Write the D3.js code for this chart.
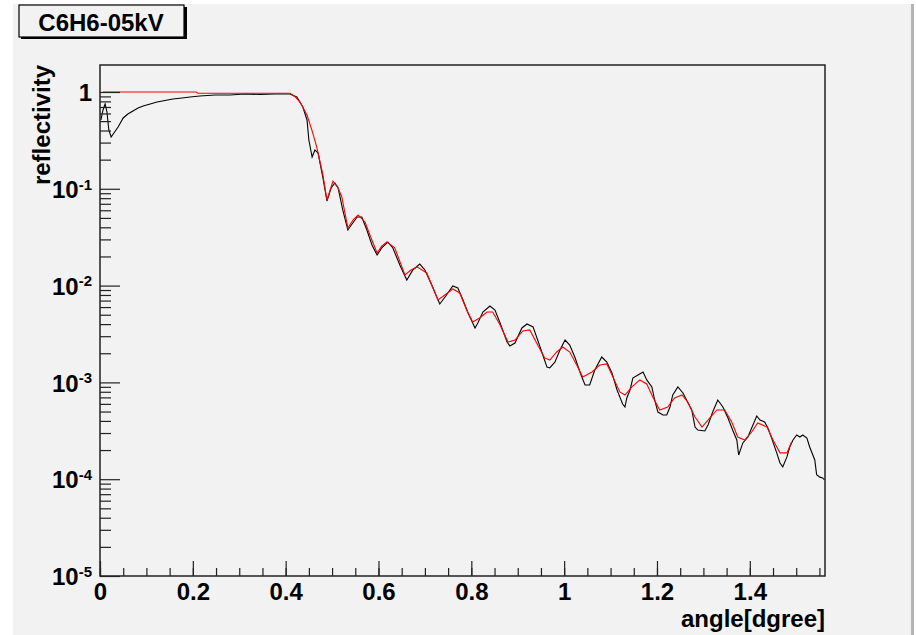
<!DOCTYPE html>
<html>
<head>
<meta charset="utf-8">
<script src="https://cdn.jsdelivr.net/npm/d3@7"></script>
<style>
  html, body { margin: 0; padding: 0; background: #ffffff; }
  svg { display: block; }
  text { font-family: "Liberation Sans", Arial, Helvetica, sans-serif; font-weight: bold; fill: #000; }
</style>
</head>
<body>
<svg id="chart" width="916" height="635"></svg>
<script>
// Measured reflectivity (black trace)
const measAngle = [0.002,0.0065,0.011,0.015,0.019,0.024,0.030,0.039,0.050,0.060,0.071,0.082,0.093,0.108,0.123,0.140,0.157,0.177,0.194,0.215,0.248,0.280,0.312,0.345,0.377,0.409,0.424,0.437,0.446,0.450,0.457,0.463,0.470,0.474,0.480,0.489,0.498,0.506,0.513,0.523,0.534,0.543,0.554,0.564,0.575,0.586,0.597,0.607,0.620,0.631,0.646,0.661,0.674,0.689,0.700,0.715,0.732,0.745,0.760,0.771,0.782,0.793,0.803,0.808,0.814,0.825,0.840,0.851,0.862,0.877,0.883,0.894,0.909,0.920,0.933,0.943,0.954,0.963,0.969,0.980,0.991,1.002,1.012,1.023,1.034,1.045,1.055,1.066,1.081,1.092,1.103,1.114,1.120,1.126,1.131,1.135,1.142,1.148,1.159,1.170,1.178,1.189,1.195,1.202,1.213,1.221,1.228,1.234,1.245,1.256,1.266,1.275,1.282,1.288,1.303,1.310,1.320,1.331,1.342,1.353,1.363,1.372,1.376,1.385,1.396,1.404,1.415,1.422,1.432,1.439,1.447,1.458,1.465,1.471,1.480,1.486,1.493,1.501,1.508,1.514,1.523,1.529,1.540,1.544,1.551,1.557,1.561];
const measRefl = [0.514,0.652,0.752,0.621,0.405,0.343,0.377,0.435,0.539,0.592,0.636,0.684,0.717,0.752,0.788,0.817,0.847,0.867,0.888,0.909,0.931,0.931,0.953,0.942,0.953,0.953,0.888,0.700,0.514,0.319,0.213,0.252,0.234,0.185,0.132,0.0748,0.102,0.115,0.102,0.0604,0.0375,0.0433,0.0511,0.0511,0.0375,0.0263,0.0207,0.0245,0.0282,0.0245,0.0163,0.0114,0.0145,0.0167,0.0145,0.0101,0.00645,0.00781,0.00991,0.00945,0.00710,0.00521,0.00411,0.00365,0.00411,0.00534,0.00616,0.00560,0.00411,0.00261,0.00238,0.00255,0.00365,0.00401,0.00374,0.00274,0.00192,0.00144,0.00141,0.00162,0.00216,0.00274,0.00243,0.00183,0.00128,0.000940,0.000940,0.00134,0.00183,0.00162,0.00125,0.000835,0.000707,0.000598,0.000557,0.000690,0.000835,0.00111,0.00119,0.00128,0.00106,0.000897,0.000658,0.000494,0.000460,0.000460,0.000557,0.000741,0.000897,0.000777,0.000627,0.000519,0.000346,0.000322,0.000315,0.000363,0.000494,0.000658,0.000557,0.000429,0.000322,0.000254,0.000178,0.000237,0.000273,0.000338,0.000450,0.000409,0.000390,0.000338,0.000266,0.000187,0.000147,0.000134,0.000170,0.000215,0.000254,0.000286,0.000273,0.000286,0.000266,0.000215,0.000158,0.000111,0.000105,0.000103,0.0000981];

// Fitted reflectivity (red trace)
const fitAngle = [0.0065,0.207,0.211,0.409,0.420,0.431,0.446,0.457,0.467,0.480,0.489,0.502,0.513,0.521,0.534,0.545,0.556,0.571,0.584,0.597,0.607,0.618,0.635,0.657,0.670,0.683,0.704,0.728,0.743,0.760,0.775,0.790,0.803,0.818,0.834,0.846,0.862,0.879,0.894,0.911,0.926,0.943,0.958,0.969,0.984,0.997,1.012,1.027,1.040,1.060,1.077,1.092,1.105,1.120,1.131,1.146,1.163,1.178,1.191,1.206,1.223,1.238,1.254,1.266,1.282,1.297,1.314,1.329,1.346,1.361,1.374,1.389,1.404,1.417,1.437,1.450,1.465,1.480,1.490];
const fitRefl = [1.0,1.0,0.970,0.970,0.894,0.788,0.579,0.396,0.270,0.142,0.0766,0.120,0.102,0.0823,0.0394,0.0476,0.0536,0.0454,0.0310,0.0217,0.0256,0.0282,0.0245,0.0129,0.0145,0.0156,0.0135,0.00710,0.00800,0.00922,0.00839,0.00560,0.00421,0.00463,0.00534,0.00534,0.00392,0.00261,0.00274,0.00340,0.00348,0.00243,0.00179,0.00170,0.00206,0.00232,0.00206,0.00151,0.00114,0.00128,0.00151,0.00155,0.00114,0.000796,0.000741,0.000897,0.00106,0.000963,0.000707,0.000519,0.000557,0.000690,0.000741,0.000627,0.000439,0.000346,0.000429,0.000519,0.000519,0.000390,0.000273,0.000254,0.000307,0.000381,0.000346,0.000254,0.000187,0.000187,0.000242];

// Axes
const xMajorTicks = [0, 0.2, 0.4, 0.6, 0.8, 1, 1.2, 1.4];
const xTickLabels = ["0", "0.2", "0.4", "0.6", "0.8", "1", "1.2", "1.4"];
const yDecades = [1, 1e-1, 1e-2, 1e-3, 1e-4, 1e-5];
const yExponents = ["0", "-1", "-2", "-3", "-4", "-5"];
const titleText = "C6H6-05kV";
const xTitle = "angle[dgree]";
const yTitle = "reflectivity";

const svg = d3.select("#chart");

// Canvas background with bevel edge on the right
svg.append("rect").attr("x", 13).attr("y", 4).attr("width", 898).attr("height", 631).attr("fill", "#f2f2f2");
svg.append("rect").attr("x", 911).attr("y", 4).attr("width", 3).attr("height", 631).attr("fill", "#b4b4b4");

const plot = { left: 100, right: 825, top: 65, bottom: 576 };

const x = d3.scaleLinear().domain([0, 1.562]).range([plot.left, plot.right]);
const y = d3.scaleLog().domain([1e-5, 1.9]).range([plot.bottom, plot.top]);

// Curves
const line = d3.line().x(d => x(d[0])).y(d => y(d[1]));
const meas = measAngle.map((a, i) => [a, measRefl[i]]);
const fit = fitAngle.map((a, i) => [a, fitRefl[i]]);

svg.append("path").datum(meas).attr("d", line)
  .attr("fill", "none").attr("stroke", "#000").attr("stroke-width", 1.1);
svg.append("path").datum(fit).attr("d", line)
  .attr("fill", "none").attr("stroke", "#ff0000").attr("stroke-width", 1.1);

// Frame
svg.append("rect").attr("x", plot.left).attr("y", plot.top)
  .attr("width", plot.right - plot.left).attr("height", plot.bottom - plot.top)
  .attr("fill", "none").attr("stroke", "#222").attr("stroke-width", 1.5);

// X axis: minor ticks every 0.05, major every 0.2 (ticks drawn inward)
const xMinor = d3.range(0, 1.5601, 0.05).map(v => +v.toFixed(2));
svg.append("g").attr("transform", `translate(0,${plot.bottom})`)
  .call(d3.axisBottom(x).tickValues(xMinor).tickSize(-8).tickFormat(""))
  .call(g => g.select(".domain").remove())
  .call(g => g.selectAll("line").attr("stroke", "#222").attr("stroke-width", 1.2));

const xAxisG = svg.append("g").attr("transform", `translate(0,${plot.bottom})`)
  .call(d3.axisBottom(x).tickValues(xMajorTicks).tickSize(-15).tickPadding(7)
    .tickFormat((d, i) => xTickLabels[i]))
  .call(g => g.select(".domain").remove())
  .call(g => g.selectAll("line").attr("stroke", "#222").attr("stroke-width", 1.2));
xAxisG.selectAll("text").attr("font-size", 24).attr("font-family", null).attr("fill", "#000");

// Y axis: log minor ticks 2..9 per decade, decades longer
const yMinor = [];
for (let e = -5; e <= 0; e++) {
  for (let m = 2; m <= 9; m++) {
    const v = m * Math.pow(10, e);
    if (v <= 1.9) yMinor.push(v);
  }
}
svg.append("g").attr("transform", `translate(${plot.left},0)`)
  .call(d3.axisLeft(y).tickValues(yMinor).tickSize(-11).tickFormat(""))
  .call(g => g.select(".domain").remove())
  .call(g => g.selectAll("line").attr("stroke", "#222").attr("stroke-width", 1.2));

const yAxisG = svg.append("g").attr("transform", `translate(${plot.left},0)`)
  .call(d3.axisLeft(y).tickValues(yDecades).tickSize(-20).tickFormat(""))
  .call(g => g.select(".domain").remove())
  .call(g => g.selectAll("line").attr("stroke", "#222").attr("stroke-width", 1.2));

yAxisG.selectAll(".tick").each(function (d, i) {
  const t = d3.select(this).append("text")
    .attr("x", -8).attr("dy", "0.36em").attr("text-anchor", "end")
    .attr("font-size", 24).attr("fill", "#000");
  if (yExponents[i] === "0") {
    t.text("1");
  } else {
    t.append("tspan").text("10");
    t.append("tspan").attr("font-size", 15).attr("dy", "-0.55em").text(yExponents[i]);
  }
});

// Axis titles
svg.append("text").attr("x", plot.right).attr("y", 627).attr("text-anchor", "end")
  .attr("font-size", 24).text(xTitle);
svg.append("text").attr("transform", `translate(50,${plot.top}) rotate(-90)`)
  .attr("text-anchor", "end").attr("font-size", 24).text(yTitle);

// Title box with drop shadow
svg.append("rect").attr("x", 21).attr("y", 7).attr("width", 166).attr("height", 32).attr("fill", "#000");
svg.append("rect").attr("x", 19).attr("y", 5).attr("width", 165).attr("height", 32)
  .attr("fill", "#f2f2f2").attr("stroke", "#000").attr("stroke-width", 1.2);
svg.append("text").attr("x", 101).attr("y", 31).attr("text-anchor", "middle")
  .attr("font-size", 24).text(titleText);
</script>
</body>
</html>
